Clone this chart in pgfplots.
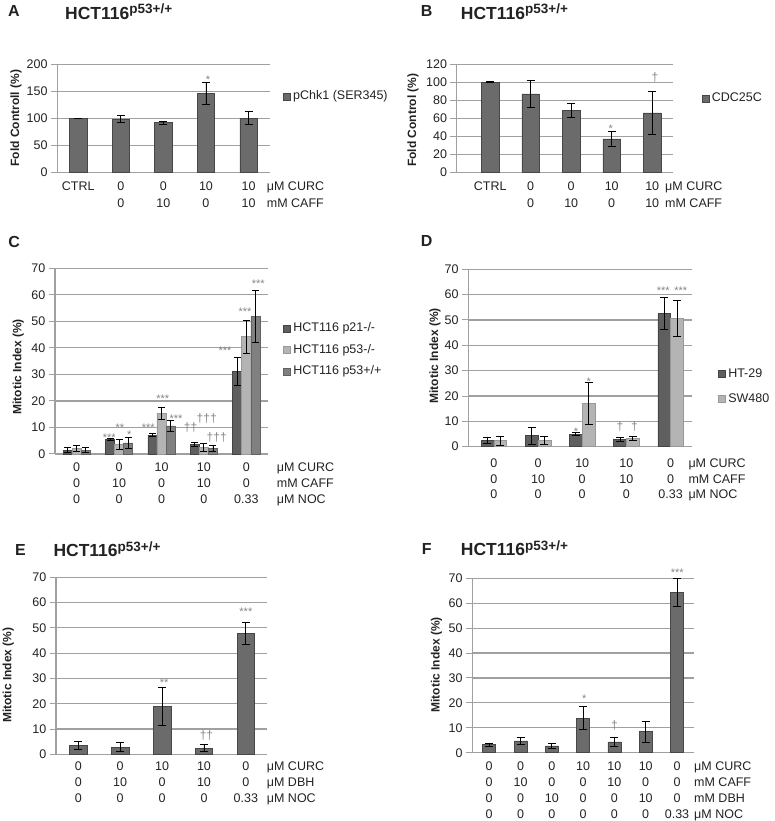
\documentclass[border=0pt]{standalone}
\usepackage{pgfplots}
\pgfplotsset{compat=1.18}
\usepackage{fontspec}
\setmainfont{Liberation Sans}

\definecolor{barA}{HTML}{6B6B6B}
\definecolor{barEdge}{HTML}{474747}
\definecolor{cDark}{HTML}{5F5F5F}
\definecolor{cDarkE}{HTML}{444444}
\definecolor{cMid}{HTML}{808080}
\definecolor{cMidE}{HTML}{626262}
\definecolor{cLight}{HTML}{B4B4B4}
\definecolor{cLightE}{HTML}{989898}
\definecolor{gridc}{HTML}{A0A0A0}
\definecolor{sigc}{HTML}{858585}
\definecolor{txt}{HTML}{222222}

\newcommand{\tf}{\fontsize{12.5}{15.8}\selectfont}
\newcommand{\tfA}{\fontsize{12.5}{17.3}\selectfont}
\newcommand{\lbl}{\fontsize{12}{14}\selectfont\bfseries}
\newcommand{\ttl}{{\fontsize{17.5}{17.5}\selectfont\bfseries HCT116}\raisebox{5.3pt}{\fontsize{13.5}{13.5}\selectfont\bfseries p53+/+}}
\newcommand{\letterfont}{\fontsize{16}{16}\selectfont\bfseries}

\pgfplotsset{
  sqleg/.style={legend image code/.code={\draw[##1,line width=0.5pt] (0pt,-3.5pt) rectangle (7pt,3.5pt);}},
  panel/.style={
    scale only axis, anchor=south west, clip=false,
    axis lines*=left,
    axis line style={draw=gridc, line width=1.2pt},
    ymajorgrids, grid style={draw=gridc, line width=1.2pt},
    ymin=0,
    major tick length=6.5pt,
    ytick style={draw=gridc, line width=1pt, xshift=-6.5pt},
    xtick style={draw=none},
    /pgf/number format/assume math mode=true,
    yticklabel style={font=\tf, text=txt, anchor=east, inner sep=0pt, xshift=-9.5pt},
    xticklabel style={font=\tf, text=txt, align=center, anchor=north, inner sep=0pt},
    ylabel style={font=\lbl, text=txt, anchor=center},
    legend style={draw=none, fill=none, inner sep=0pt, font=\tf, text=txt, anchor=west,
      nodes={inner sep=0pt, text height=9pt, text depth=3pt},
      /tikz/every odd column/.append style={column sep=2.5pt}},
    legend cell align=left,
    error bars/error bar style={black, line width=0.9pt},
    error bars/error mark options={black, line width=0.9pt, mark size=4pt, rotate=90},
  },
  bars/.style={ybar, fill=barA, draw=barEdge, line width=0.6pt, sqleg, bar shift=0pt,
    error bars/y dir=both, error bars/y explicit},
  stars/.style={draw=none, mark=none, forget plot, nodes near coords, point meta=explicit symbolic,
    nodes near coords style={font=\fontsize{11}{11}\selectfont, text=sigc, anchor=center, inner sep=0pt, yshift=-2.4pt}},
  daggers/.style={draw=none, mark=none, forget plot, nodes near coords, point meta=explicit symbolic,
    nodes near coords style={font=\fontsize{12}{12}\selectfont, text=sigc, anchor=center, inner sep=0pt}},
}

\begin{document}
\begin{tikzpicture}[x=1pt,y=1pt]
\useasboundingbox (0,0) rectangle (774,821);

% ---------------- Panel A ----------------
\node[anchor=base west, inner sep=0pt, font=\letterfont, text=txt] at (8pt,804.3pt) {A};
\node[anchor=base west, inner sep=0pt, text=txt] at (65pt,801.7pt) {\ttl};
\begin{axis}[panel, at={(57.3pt,648.7pt)}, width=212.7pt, height=108pt,
  xmin=-0.49, xmax=4.503, ymax=200, ytick={0,50,...,200},
  xtick={0,...,4}, xticklabels={CTRL,{0\\0},{0\\10},{10\\0},{10\\10}},
  xticklabel style={font=\tfA, yshift=-9.4pt},
  ylabel={Fold Controll (\%)}, ylabel style={at={(axis description cs:-0.194,0.5)}},
  legend style={at={(1.061,0.70)}}]
\addplot[bars, bar width=17.5pt] coordinates {
  (0,100) +- (0,0.6) (1,98.5) +- (0,7) (2,92) +- (0,2.8) (3,146) +- (0,19.5) (4,100) +- (0,12)};
\addlegendentry{pChk1 (SER345)}
\addplot[stars] coordinates {(3.05,175.2) [*]};
\end{axis}
\node[anchor=north west, inner sep=0pt, align=left, font=\tfA, text=txt] at (266.7pt,639.3pt)
  {μM CURC\\mM CAFF};

% ---------------- Panel B ----------------
\node[anchor=base west, inner sep=0pt, font=\letterfont, text=txt] at (420.7pt,804.3pt) {B};
\node[anchor=base west, inner sep=0pt, text=txt] at (460.7pt,801.7pt) {\ttl};
\begin{axis}[panel, at={(456.7pt,648.7pt)}, width=216pt, height=108pt,
  xmin=-0.827, xmax=4.506, ymax=120, ytick={0,20,...,120},
  xtick={0,...,4}, xticklabels={CTRL,{0\\0},{0\\10},{10\\0},{10\\10}},
  xticklabel style={font=\tfA, yshift=-9.4pt},
  ylabel={Fold Control (\%)}, ylabel style={at={(axis description cs:-0.202,0.484)}},
  legend style={at={(1.134,0.679)}}]
\addplot[bars, bar width=17.5pt] coordinates {
  (0,100) +- (0,0.6) (1,87) +- (0,14.5) (2,68.7) +- (0,7.6) (3,37) +- (0,8.6) (4,65.9) +- (0,23.7)};
\addlegendentry{CDC25C}
\addplot[stars] coordinates {(2.975,50.7) [*]};
\addplot[daggers] coordinates {(4.07,105.6) [†]};
\end{axis}
\node[anchor=north west, inner sep=0pt, align=left, font=\tfA, text=txt] at (665pt,639.3pt)
  {μM CURC\\mM CAFF};

% ---------------- Panel C ----------------
\node[anchor=base west, inner sep=0pt, font=\letterfont, text=txt] at (8.3pt,573.8pt) {C};
\begin{axis}[panel, at={(55pt,367pt)}, width=213.3pt, height=185.7pt,
  xmin=-0.512, xmax=4.519, ymax=70, ytick={0,10,...,70},
  xtick={0,...,4}, xticklabels={{0\\0\\0},{0\\10\\0},{10\\0\\0},{10\\10\\0},{0\\0\\0.33}},
  xticklabel style={yshift=-8.7pt},
  ylabel={Mitotic Index (\%)}, ylabel style={at={(axis description cs:-0.172,0.47)}},
  legend style={at={(1.070,0.56)}, row sep=9.7pt},
  error bars/error mark options={black, line width=0.9pt, mark size=3.5pt, rotate=90}]
\addplot[bars, bar width=9.1pt, fill=cDark, draw=cDarkE] coordinates {
  (-0.2146,1.5) +- (0,0.9) (0.7854,5.6) +- (0,0.35) (1.7854,7.1) +- (0,0.6) (2.7854,3.7) +- (0,0.7) (3.7854,31.2) +- (0,5.2)};
\addlegendentry{HCT116 p21-/-}
\addplot[bars, bar width=9.1pt, fill=cLight, draw=cLightE] coordinates {
  (0,2.1) +- (0,1.0) (1,3.7) +- (0,1.8) (2,15.2) +- (0,2.3) (3,2.5) +- (0,1.6) (4,44.2) +- (0,6.3)};
\addlegendentry{HCT116 p53-/-}
\addplot[bars, bar width=9.1pt, fill=cMid, draw=cMidE] coordinates {
  (0.2146,1.5) +- (0,0.9) (1.2146,4.2) +- (0,2.2) (2.2146,10.6) +- (0,2.2) (3.2146,2.0) +- (0,1.1) (4.2146,51.8) +- (0,9.9)};
\addlegendentry{HCT116 p53+/+}
\addplot[stars] coordinates {
  (0.769,7.16) [***] (1.021,10.9) [**] (1.241,8.0) [*] (1.689,10.7) [***] (2.028,21.6) [***]
  (2.342,14.2) [***] (3.498,39.8) [***] (3.969,54.5) [***] (4.283,65.2) [***]};
\addplot[daggers] coordinates {(2.684,10.1) [††] (3.066,13.5) [†††] (3.302,6.3) [†††]};
\end{axis}
\node[anchor=north west, inner sep=0pt, align=left, font=\tf, text=txt] at (276.7pt,358.3pt)
  {μM CURC\\mM CAFF\\μM NOC};

% ---------------- Panel D ----------------
\node[anchor=base west, inner sep=0pt, font=\letterfont, text=txt] at (420.7pt,574.3pt) {D};
\begin{axis}[panel, at={(468.3pt,374.3pt)}, width=223.4pt, height=177.4pt,
  xmin=-0.577, xmax=4.477, ymax=70, ytick={0,10,...,70},
  xtick={0,...,4}, xticklabels={{0\\0\\0},{0\\10\\0},{10\\0\\0},{10\\10\\0},{0\\0\\0.33}},
  xticklabel style={yshift=-11.6pt},
  ylabel={Mitotic Index (\%)}, ylabel style={at={(axis description cs:-0.149,0.513)}},
  legend style={at={(1.118,0.339)}, row sep=13pt}]
\addplot[bars, bar width=12.8pt, fill=cDark, draw=cDarkE] coordinates {
  (-0.1448,2.4) +- (0,1.3) (0.8552,4.3) +- (0,3.3) (1.8552,5.0) +- (0,0.7) (2.8552,2.9) +- (0,0.7) (3.8552,52.5) +- (0,6.2)};
\addlegendentry{HT-29}
\addplot[bars, bar width=12.8pt, fill=cLight, draw=cLightE] coordinates {
  (0.1448,2.4) +- (0,1.8) (1.1448,2.6) +- (0,1.6) (2.1448,17.1) +- (0,8.2) (3.1448,3.3) +- (0,0.9) (4.1448,50.5) +- (0,7.1)};
\addlegendentry{SW480}
\addplot[stars] coordinates {(1.86,7.0) [*] (2.147,26.7) [*] (3.835,62.3) [***] (4.229,62.3) [***]};
\addplot[daggers] coordinates {(2.855,7.9) [†] (3.179,7.9) [†]};
\end{axis}
\node[anchor=north west, inner sep=0pt, align=left, font=\tf, text=txt] at (688.3pt,362.7pt)
  {μM CURC\\mM CAFF\\μM NOC};

% ---------------- Panel E ----------------
\node[anchor=base west, inner sep=0pt, font=\letterfont, text=txt] at (15pt,265pt) {E};
\node[anchor=base west, inner sep=0pt, text=txt] at (53.3pt,264.3pt) {\ttl};
\begin{axis}[panel, at={(56pt,66.7pt)}, width=210.7pt, height=177pt,
  xmin=-0.532, xmax=4.497, ymax=70, ytick={0,10,...,70},
  xtick={0,...,4}, xticklabels={{0\\0\\0},{0\\10\\0},{10\\0\\0},{10\\10\\0},{0\\0\\0.33}},
  xticklabel style={yshift=-7.4pt},
  ylabel={Mitotic Index (\%)}, ylabel style={at={(axis description cs:-0.226,0.448)}}]
\addplot[bars, bar width=17.5pt] coordinates {
  (0,3.4) +- (0,1.5) (1,2.8) +- (0,1.8) (2,19) +- (0,7.4) (3,2.4) +- (0,1.4) (4,47.8) +- (0,4.3)};
\addplot[stars] coordinates {(2.05,29.4) [**] (4.0,57.3) [***]};
\addplot[daggers] coordinates {(3.06,7.6) [††]};
\end{axis}
\node[anchor=north west, inner sep=0pt, align=left, font=\tf, text=txt] at (266.7pt,59.3pt)
  {μM CURC\\μM DBH\\μM NOC};

% ---------------- Panel F ----------------
\node[anchor=base west, inner sep=0pt, font=\letterfont, text=txt] at (421.7pt,266pt) {F};
\node[anchor=base west, inner sep=0pt, text=txt] at (460.7pt,265pt) {\ttl};
\begin{axis}[panel, at={(472.3pt,68.3pt)}, width=221.7pt, height=174.4pt,
  xmin=-0.54, xmax=6.543, ymax=70, ytick={0,10,...,70},
  xtick={0,...,6}, xticklabels={{0\\0\\0\\0},{0\\10\\0\\0},{0\\0\\10\\0},{10\\0\\0\\0},{10\\10\\0\\0},{10\\0\\10\\0},{0\\0\\0\\0.33}},
  xticklabel style={yshift=-9.0pt},
  ylabel={Mitotic Index (\%)}, ylabel style={at={(axis description cs:-0.161,0.503)}}]
\addplot[bars, bar width=13pt] coordinates {
  (0,3.2) +- (0,0.5) (1,4.7) +- (0,1.3) (2,2.7) +- (0,0.9) (3,13.9) +- (0,4.5)
  (4,4.3) +- (0,1.9) (5,8.4) +- (0,4.2) (6,64.4) +- (0,5.5)};
\addplot[stars] coordinates {(3.04,22.8) [*] (6.01,73.1) [***]};
\addplot[daggers] coordinates {(4.0,10.7) [†]};
\end{axis}
\node[anchor=north west, inner sep=0pt, align=left, font=\tf, text=txt] at (694pt,59.3pt)
  {μM CURC\\mM CAFF\\mM DBH\\μM NOC};

\end{tikzpicture}
\end{document}
